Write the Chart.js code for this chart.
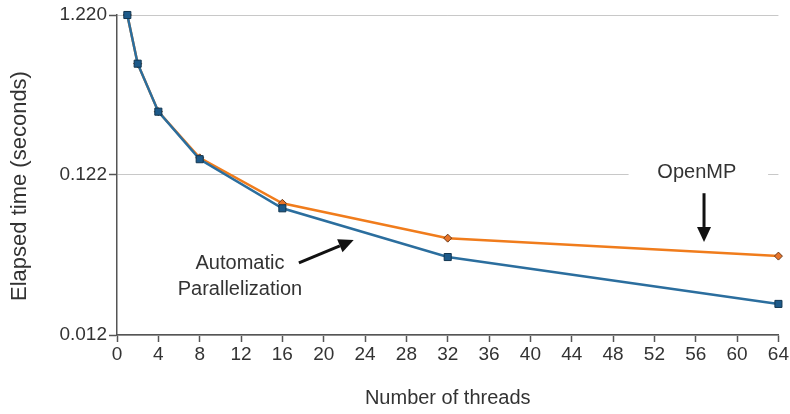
<!DOCTYPE html>
<html>
<head>
<meta charset="utf-8">
<script src="https://cdn.jsdelivr.net/npm/chart.js@4.4.0/dist/chart.umd.min.js"></script>
<style>
  html, body { margin: 0; padding: 0; background: #fff; }
  #wrap { width: 790px; height: 414px; }
</style>
</head>
<body>
<div id="wrap"><canvas id="chart"></canvas></div>
<script>
// Thread counts and elapsed time (seconds)
const threads = [1, 2, 4, 8, 16, 32, 64];
const autoPar = [1.22, 0.604, 0.302, 0.152, 0.0748, 0.037, 0.0188];
const openMP = [1.22, 0.604, 0.302, 0.155, 0.0804, 0.0486, 0.0375];
const yTicks = [0.012, 0.122, 1.22];

const FONT = "'Liberation Sans', Arial, sans-serif";
const TEXT = '#333';

function toPoints(values) {
  return threads.map(function(t, i) { return { x: t, y: values[i] }; });
}

// Axis title on the left, callout labels and arrows placed in data units
const callouts = {
  id: 'callouts',
  beforeDatasetsDraw(chart) {
    const { ctx, scales: { x, y } } = chart;
    ctx.save();
    // white box behind the OpenMP label breaks the grid line
    ctx.fillStyle = '#fff';
    const bx0 = x.getPixelForValue(49.5), bx1 = x.getPixelForValue(63);
    const by0 = y.getPixelForValue(0.15), by1 = y.getPixelForValue(0.1);
    ctx.fillRect(bx0, by0, bx1 - bx0, by1 - by0);

    ctx.fillStyle = TEXT;
    ctx.font = '22px ' + FONT;
    ctx.textAlign = 'center';
    ctx.textBaseline = 'middle';
    ctx.translate(20, 186);
    ctx.rotate(-Math.PI / 2);
    ctx.fillText('Elapsed time (seconds)', 0, 0);
    ctx.restore();
  },
  afterDatasetsDraw(chart) {
    const { ctx, scales: { x, y } } = chart;
    ctx.save();
    ctx.fillStyle = TEXT;
    ctx.font = '20px ' + FONT;
    ctx.textAlign = 'center';
    ctx.textBaseline = 'middle';
    ctx.fillText('OpenMP', x.getPixelForValue(56.1), y.getPixelForValue(0.126));
    ctx.fillText('Automatic', x.getPixelForValue(11.9), y.getPixelForValue(0.0335));
    ctx.fillText('Parallelization', x.getPixelForValue(11.9), y.getPixelForValue(0.023));

    function arrow(x0, y0, x1, y1) {
      const ax = x.getPixelForValue(x0), ay = y.getPixelForValue(y0);
      const bx = x.getPixelForValue(x1), by = y.getPixelForValue(y1);
      const ang = Math.atan2(by - ay, bx - ax);
      const head = 15, half = 7;
      const hx = bx - head * Math.cos(ang), hy = by - head * Math.sin(ang);
      ctx.strokeStyle = '#111';
      ctx.fillStyle = '#111';
      ctx.lineWidth = 3;
      ctx.beginPath();
      ctx.moveTo(ax, ay);
      ctx.lineTo(hx, hy);
      ctx.stroke();
      ctx.beginPath();
      ctx.moveTo(bx, by);
      ctx.lineTo(hx + half * Math.sin(ang), hy - half * Math.cos(ang));
      ctx.lineTo(hx - half * Math.sin(ang), hy + half * Math.cos(ang));
      ctx.closePath();
      ctx.fill();
    }
    arrow(56.8, 0.093, 56.8, 0.046);
    arrow(17.6, 0.034, 22.9, 0.0473);
    ctx.restore();
  }
};

new Chart(document.getElementById('chart'), {
  type: 'line',
  data: {
    datasets: [{
      label: 'Automatic Parallelization',
      data: toPoints(autoPar),
      borderColor: '#2b6e9e',
      backgroundColor: '#1d5a8a',
      pointBorderColor: '#123650',
      pointStyle: 'rect',
      pointRadius: 5,
      pointBorderWidth: 1,
      borderWidth: 2.5,
      tension: 0,
      order: 1
    }, {
      label: 'OpenMP',
      data: toPoints(openMP),
      borderColor: '#f07c1c',
      backgroundColor: '#e8742a',
      pointBorderColor: '#6a3a1a',
      pointStyle: 'rectRot',
      pointRadius: 4,
      pointBorderWidth: 1,
      borderWidth: 2.5,
      tension: 0,
      order: 2
    }]
  },
  options: {
    responsive: true,
    maintainAspectRatio: false,
    animation: false,
    clip: false,
    layout: { padding: { top: 15, right: 9, left: 0, bottom: 0 } },
    plugins: {
      legend: { display: false },
      tooltip: { enabled: false }
    },
    scales: {
      x: {
        type: 'linear',
        min: 0,
        max: 64,
        afterFit: function(axis) { axis.height = 79; },
        ticks: {
          stepSize: 4,
          color: TEXT,
          padding: 1,
          maxRotation: 0,
          font: { family: FONT, size: 19 }
        },
        grid: {
          drawOnChartArea: false,
          tickLength: 7,
          tickColor: '#555',
          tickWidth: 1.5
        },
        border: { color: '#555', width: 1.5 },
        title: {
          display: true,
          text: 'Number of threads',
          color: TEXT,
          padding: { top: 10, bottom: 4 },
          font: { family: FONT, size: 20 }
        }
      },
      y: {
        type: 'logarithmic',
        min: 0.012,
        max: 1.22,
        afterFit: function(axis) { axis.width = 117; },
        afterBuildTicks: function(axis) {
          axis.ticks = yTicks.map(function(v) { return { value: v }; });
        },
        ticks: {
          color: TEXT,
          padding: 2,
          font: { family: FONT, size: 19 },
          callback: function(value) { return Number(value).toFixed(3); }
        },
        grid: {
          color: '#c8c8c8',
          lineWidth: 1,
          tickLength: 8,
          tickColor: '#555',
          tickWidth: 1.5
        },
        border: { color: '#555', width: 1.5 }
      }
    }
  },
  plugins: [callouts]
});
</script>
</body>
</html>
